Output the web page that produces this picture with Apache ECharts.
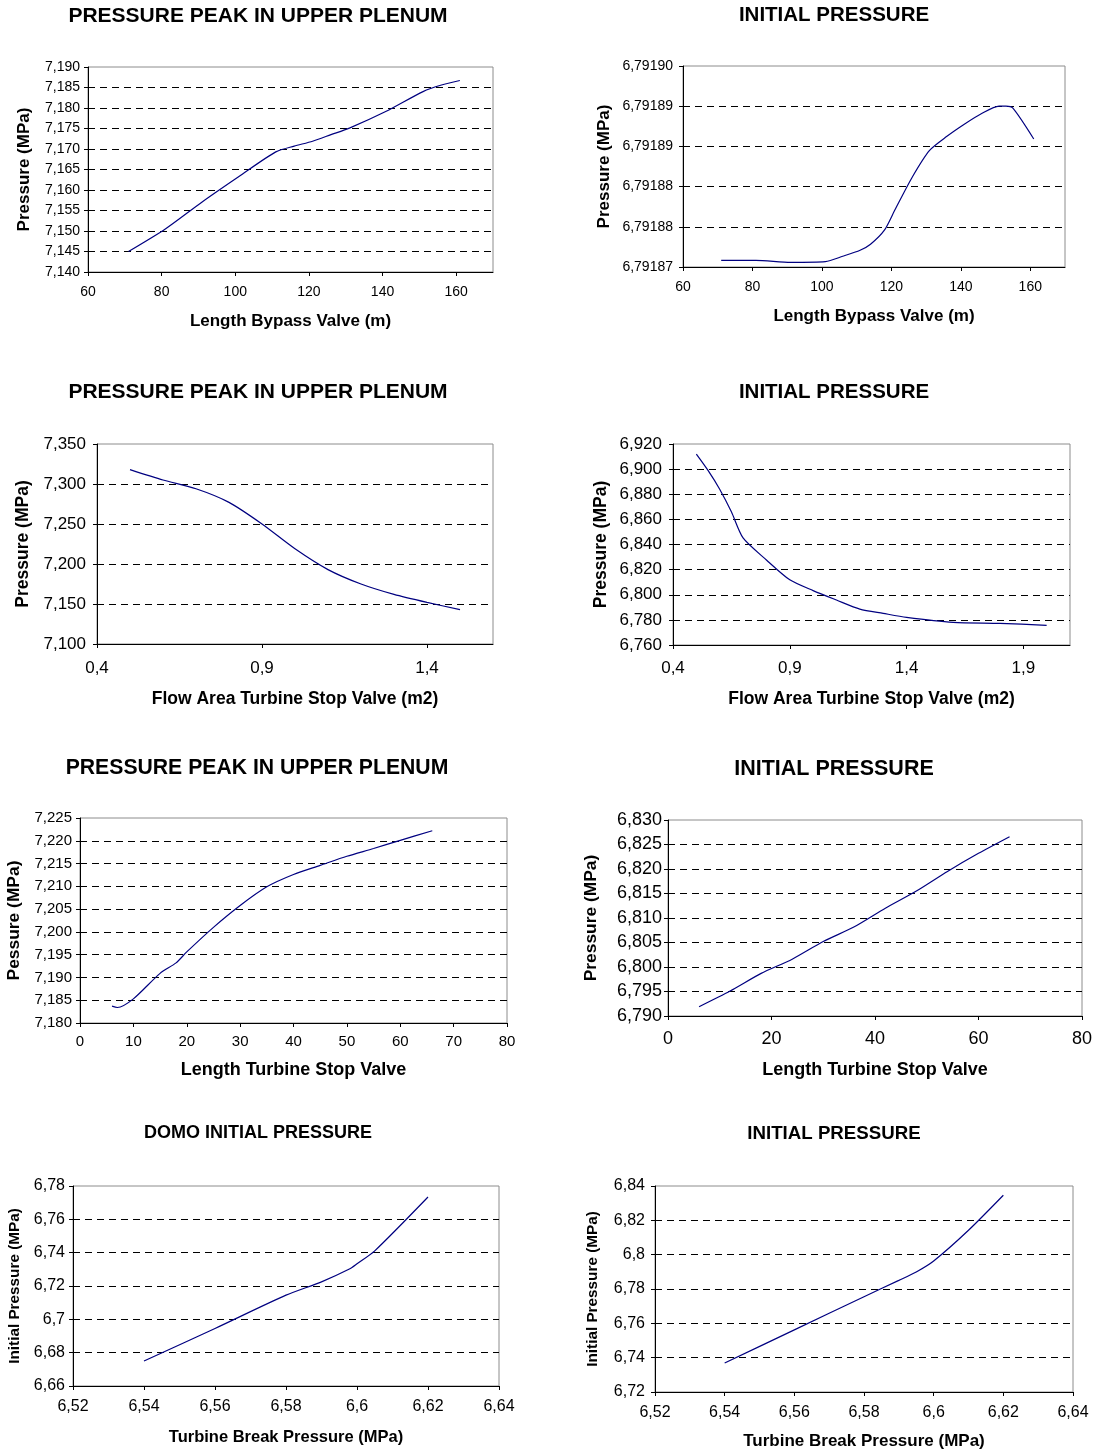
<!DOCTYPE html>
<html>
<head>
<meta charset="utf-8">
<script src="https://cdn.jsdelivr.net/npm/echarts@6/dist/echarts.min.js"></script>
<style>
  html, body { margin: 0; padding: 0; background: #fff; }
  #chart { width: 1096px; height: 1451px; }
</style>
</head>
<body>
<div id="chart"></div>
<script>
// values
const bypassLen1 = [71, 81, 91, 101, 111, 116, 121, 126, 131, 141, 151, 156, 161];
const peakBypass = [7.145, 7.1505, 7.1571, 7.1633, 7.1693, 7.1707, 7.1719, 7.1735, 7.1751, 7.1792, 7.1840, 7.1856, 7.1867];

const bypassLen2 = [71, 81, 91, 101, 106, 111, 114, 118, 121, 126, 131, 136, 141, 146, 151, 153, 155, 161];
const initBypass = [6.791871, 6.791871, 6.7918707, 6.7918708, 6.7918716, 6.7918725, 6.7918734, 6.7918755, 6.7918785,
  6.7918834, 6.7918874, 6.7918895, 6.7918913, 6.7918929, 6.791894, 6.791894, 6.7918937, 6.7918891];

const flowArea1 = [0.5, 0.6, 0.7, 0.8, 0.9, 1.0, 1.1, 1.2, 1.3, 1.4, 1.5];
const peakFlow = [7.318, 7.305, 7.294, 7.277, 7.250, 7.219, 7.193, 7.175, 7.162, 7.152, 7.143];

const flowArea2 = [0.5, 0.55, 0.6, 0.65, 0.7, 0.8, 0.9, 1.0, 1.1, 1.2, 1.3, 1.4, 1.6, 1.8, 2.0];
const initFlow = [6.912, 6.899, 6.884, 6.866, 6.8452, 6.8277, 6.8119, 6.8033, 6.7958, 6.7886, 6.7852, 6.7820, 6.7780, 6.7772, 6.7757];

const stopLen1 = [6, 7, 10, 15, 18, 20, 25, 30, 35, 40, 45, 50, 55, 60, 66];
const peakStop = [7.1837, 7.1834, 7.1853, 7.1909, 7.1932, 7.1956, 7.2010, 7.2058, 7.2099, 7.2126, 7.2146, 7.2166, 7.2183, 7.2201, 7.2222];

const stopLen2 = [6, 12, 18, 24, 30, 36, 42, 48, 54, 60, 66];
const initStop = [6.7919, 6.7951, 6.7987, 6.8016, 6.8052, 6.8082, 6.8120, 6.8155, 6.8195, 6.8232, 6.8266];

const breakP1 = [6.54, 6.56, 6.58, 6.59, 6.598, 6.6, 6.605, 6.62];
const domoInit = [6.675, 6.6945, 6.7145, 6.7225, 6.7303, 6.7333, 6.7411, 6.7734];

const breakP2 = [6.54, 6.56, 6.58, 6.59, 6.595, 6.6, 6.61, 6.62];
const initBreak = [6.7369, 6.7562, 6.7755, 6.7850, 6.7899, 6.7963, 6.8142, 6.8346];

const titles = ['PRESSURE PEAK IN UPPER PLENUM', 'INITIAL PRESSURE',
  'PRESSURE PEAK IN UPPER PLENUM', 'INITIAL PRESSURE',
  'PRESSURE PEAK IN UPPER PLENUM', 'INITIAL PRESSURE',
  'DOMO INITIAL PRESSURE', 'INITIAL PRESSURE'];
const xNames = ['Length Bypass Valve (m)', 'Length Bypass Valve (m)',
  'Flow Area Turbine Stop Valve (m2)', 'Flow Area Turbine Stop Valve (m2)',
  'Length Turbine Stop Valve', 'Length Turbine Stop Valve',
  'Turbine Break Pressure (MPa)', 'Turbine Break Pressure (MPa)'];
const yNames = ['Pressure (MPa)', 'Pressure (MPa)', 'Pressure (MPa)', 'Pressure (MPa)',
  'Pessure (MPa)', 'Pressure (MPa)', 'Initial Pressure (MPa)', 'Initial Pressure (MPa)'];

const xs = [bypassLen1, bypassLen2, flowArea1, flowArea2, stopLen1, stopLen2, breakP1, breakP2];
const ys = [peakBypass, initBypass, peakFlow, initFlow, peakStop, initStop, domoInit, initBreak];

// Excel style decimal comma; d == null means "general" format
const comma = (v, d) => (d == null ? String(+v.toFixed(2)) : v.toFixed(d)).replace('.', ',');

const ARIAL = 'Liberation Sans, Arial, sans-serif';

// layout of each panel (px): grid, title pos/size, axis ranges, label sizes and gaps
const panels = [
  { g: [88, 67, 405, 205], t: [258, 6, 21], x: [60, 170, 20, 0], y: [7.140, 7.190, 0.005, 3], fs: 14, xm: 13, ym: 8, xn: 17, yn: 17, xg: 40.5, yg: 55.5 },
  { g: [683, 66, 382, 201], t: [834, 5, 20.5], x: [60, 170, 20, 0], y: [6.79187, 6.79190, 0.000006, 5], fs: 14, xm: 13, ym: 10, xn: 17, yn: 17, xg: 40.5, yg: 70.5 },
  { g: [97, 444, 396, 200], t: [258, 382, 21], x: [0.4, 1.6, 0.5, 1], y: [7.100, 7.350, 0.05, 3], fs: 17, xm: 16, ym: 11, xn: 17.5, yn: 17.5, xg: 46, yg: 64.5 },
  { g: [673, 444, 397, 201], t: [834, 382, 20.5], x: [0.4, 2.1, 0.5, 1], y: [6.760, 6.920, 0.02, 3], fs: 17, xm: 15, ym: 11, xn: 17.5, yn: 17.5, xg: 45, yg: 62.5 },
  { g: [80, 818, 427, 205], t: [257, 758, 21.2], x: [0, 80, 10, 0], y: [7.180, 7.225, 0.005, 3], fs: 15, xm: 11, ym: 8, xn: 18, yn: 17.4, xg: 38, yg: 57.5 },
  { g: [668, 820, 414, 196], t: [834, 758, 21.5], x: [0, 80, 20, 0], y: [6.790, 6.830, 0.005, 3], fs: 18, xm: 14, ym: 6, xn: 18, yn: 17.4, xg: 45, yg: 68.5 },
  { g: [73, 1186, 426, 200], t: [258, 1124, 18], x: [6.52, 6.64, 0.02, null], y: [6.66, 6.78, 0.02, null], fs: 16, xm: 13, ym: 8, xn: 16.5, yn: 15.3, xg: 43, yg: 51 },
  { g: [655, 1186, 418, 206], t: [834, 1124, 18.7], x: [6.52, 6.64, 0.02, null], y: [6.72, 6.84, 0.02, null], fs: 16, xm: 13, ym: 10, xn: 17, yn: 15.3, xg: 41, yg: 55 }
];

const option = {
  backgroundColor: '#fff',
  animation: false,
  title: [], grid: [], xAxis: [], yAxis: [], series: []
};

panels.forEach((p, i) => {
  option.title.push({
    text: titles[i], left: p.t[0], top: p.t[1], textAlign: 'center', padding: 0,
    textStyle: { fontFamily: ARIAL, fontWeight: 'bold', fontSize: p.t[2], color: '#000' }
  });
  option.grid.push({
    left: p.g[0], top: p.g[1], width: p.g[2], height: p.g[3],
    show: true, borderColor: '#8c8c8c', borderWidth: 1, backgroundColor: 'transparent'
  });
  const axisBase = {
    type: 'value', gridIndex: i,
    axisLine: { show: true, onZero: false, lineStyle: { color: '#000', width: 1 } },
    axisTick: { show: true, inside: false, length: 4, lineStyle: { color: '#000' } },
    nameLocation: 'middle'
  };
  const steps = (p.x[1] - p.x[0]) / p.x[2];
  option.xAxis.push(Object.assign({}, axisBase, {
    min: p.x[0], max: p.x[1], interval: p.x[2],
    name: xNames[i], nameGap: p.xg,
    nameTextStyle: { fontFamily: ARIAL, fontWeight: 'bold', fontSize: p.xn, color: '#000' },
    splitLine: { show: false },
    axisLabel: {
      fontFamily: ARIAL, fontSize: p.fs, color: '#000', margin: p.xm,
      showMaxLabel: Math.abs(steps - Math.round(steps)) < 1e-6,
      formatter: v => comma(v, p.x[3])
    }
  }));
  option.yAxis.push(Object.assign({}, axisBase, {
    min: p.y[0], max: p.y[1], interval: p.y[2],
    name: yNames[i], nameGap: p.yg, nameRotate: 90,
    nameTextStyle: { fontFamily: ARIAL, fontWeight: 'bold', fontSize: p.yn, color: '#000' },
    splitLine: { show: true, showMinLine: false, showMaxLine: false, lineStyle: { color: '#000', width: 1, type: [7, 5] } },
    axisLabel: { fontFamily: ARIAL, fontSize: p.fs, color: '#000', margin: p.ym, formatter: v => comma(v, p.y[3]) }
  }));
  option.series.push({
    type: 'line', xAxisIndex: i, yAxisIndex: i,
    data: xs[i].map((x, k) => [x, ys[i][k]]),
    showSymbol: false, smooth: 0.25,
    lineStyle: { color: '#000080', width: 1.2 }
  });
});

const chart = echarts.init(document.getElementById('chart'), null, { renderer: 'canvas' });
chart.setOption(option);
</script>
</body>
</html>
